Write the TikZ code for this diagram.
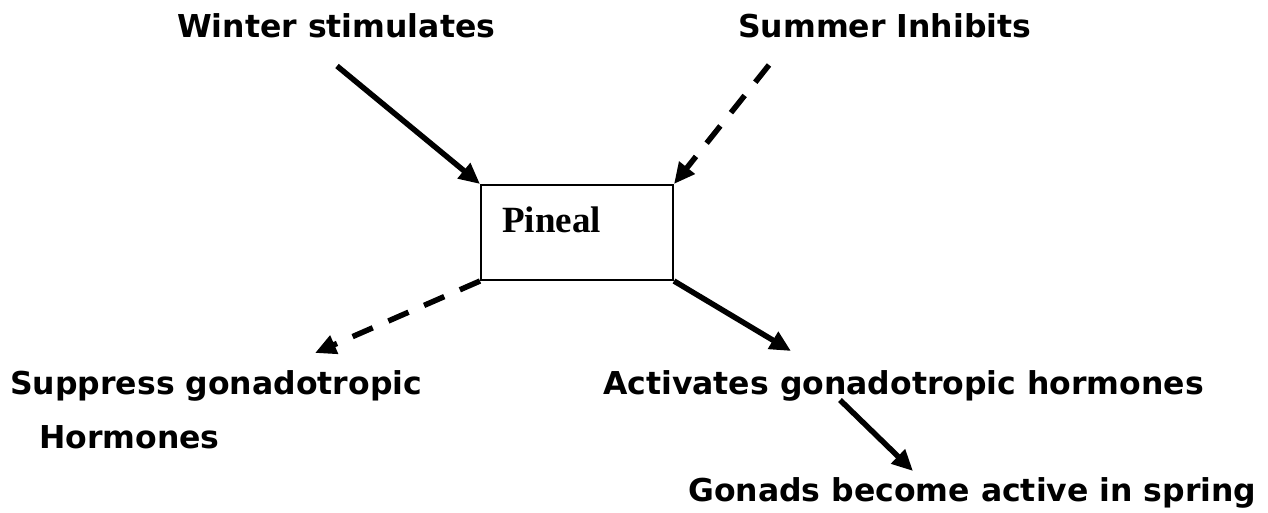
\documentclass[tikz,border=0pt]{standalone}
\usepackage{fontspec}
\setmainfont{DejaVu Sans}
\newfontfamily\pinealfont{Liberation Serif}
\usetikzlibrary{arrows.meta}
\tikzset{
  lbl/.style={anchor=base west, inner sep=0pt, font=\fontsize{31.5}{36}\selectfont\bfseries},
  solidarrow/.style={line width=5.5pt, -{Triangle[length=21pt,width=19pt]}},
  dasharrow/.style={line width=5.5pt, dash pattern=on 22pt off 17pt, -{Triangle[length=21pt,width=19pt]}},
  boxstyle/.style={draw, line width=2pt, minimum width=192pt, minimum height=95pt, inner sep=0pt}
}
\begin{document}
\begin{tikzpicture}[x=1pt,y=-1pt]
\useasboundingbox[fill=white] (0,0) rectangle (1268,512);
\node[boxstyle] (pineal) at (577,232.5) {};
\node[anchor=base west, inner sep=0pt, font=\fontsize{37}{42}\selectfont\pinealfont\bfseries] (pinealtxt) at (502,232) {Pineal};
\node[lbl] (winter) at (177,37) {Winter stimulates};
\node[lbl] (summer) at (738,37) {Summer Inhibits};
\node[lbl] (suppress) at (10,394) {Suppress gonadotropic};
\node[lbl] (hormones) at (39,448) {Hormones};
\node[lbl] (activates) at (603,394) {Activates gonadotropic hormones};
\node[lbl] (gonads) at (688,501) {Gonads become active in spring};
\coordinate (ws) at (337,66);
\coordinate (ss) at (769,65);
\coordinate (supend) at (315,353);
\coordinate (actend) at (791,351);
\coordinate (gs) at (840,400);
\coordinate (ge) at (913,471);
\draw[solidarrow] (ws) -- (pineal.north west);
\draw[dasharrow] (ss) -- (pineal.north east);
\draw[dasharrow] (pineal.south west) -- (supend);
\draw[solidarrow] (pineal.south east) -- (actend);
\draw[solidarrow] (gs) -- (ge);
\end{tikzpicture}
\end{document}
